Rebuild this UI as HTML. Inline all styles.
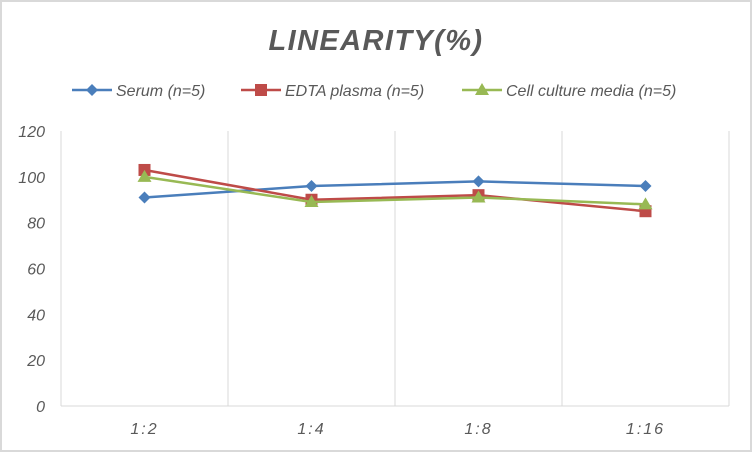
<!DOCTYPE html>
<html><head><meta charset="utf-8"><style>
body{margin:0;background:#fff;}
svg{display:block;font-family:"Liberation Sans",sans-serif;}
</style></head><body>
<svg id="chart" width="752" height="452">
<rect x="1" y="1" width="750" height="450" fill="#fff" stroke="#d9d9d9" stroke-width="2"/>
<text x="376" y="50" text-anchor="middle" font-size="29" font-weight="bold" font-style="italic" fill="#595959" letter-spacing="1.4">LINEARITY(%)</text>
<g id="legend"></g>
<g id="grid"></g>
<g id="yaxis"></g>
<g id="xaxis"></g>
<g id="series"></g>
</svg>
<script>
const categories = ["1:2","1:4","1:8","1:16"];
const serumValues = [91,96,98,96];
const edtaValues = [103,90,92,85];
const cellValues = [100,89,91,88];
const yTicks = [0,20,40,60,80,100,120];
const seriesNames = ["Serum (n=5)","EDTA plasma (n=5)","Cell culture media (n=5)"];

const NS="http://www.w3.org/2000/svg";
const L=61,R=729,T=131,B=406,yMax=120;
const cw=(R-L)/categories.length;
function xs(i){return L+cw*(i+0.5);}
function ys(v){return B-(v/yMax)*(B-T);}
function mk(tag,attrs,parent){const e=document.createElementNS(NS,tag);for(const k in attrs)e.setAttribute(k,attrs[k]);parent.appendChild(e);return e;}
const grid=document.getElementById('grid'),ya=document.getElementById('yaxis'),xa=document.getElementById('xaxis'),sg=document.getElementById('series'),lg=document.getElementById('legend');
for(let i=0;i<=categories.length;i++){
 const l=mk('line',{x1:L+cw*i,x2:L+cw*i,y1:T,y2:B,stroke:'#d9d9d9','stroke-width':1},grid);
 
 
}
const ax=mk('line',{x1:L,x2:R,y1:B,y2:B,stroke:'#d9d9d9','stroke-width':1},xa);


yTicks.forEach(v=>{
 const t=mk('text',{x:45,y:ys(v)+6,'text-anchor':'end','font-size':16,'font-style':'italic',fill:'#595959'},ya);
 t.textContent=v;
 
 
});
categories.forEach((c,i)=>{
 const t=mk('text',{x:xs(i),y:434,'text-anchor':'middle','font-size':16,'font-style':'italic',fill:'#595959','letter-spacing':2},xa);
 t.textContent=c;
 
 
});
const colors=['#4a7ebb','#be4b48','#98b954'];
const data=[serumValues,edtaValues,cellValues];
function marker(k,x,y,p){
 if(k===0) return mk('polygon',{points:`${x},${y-6} ${x+6},${y} ${x},${y+6} ${x-6},${y}`,fill:colors[0]},p);
 if(k===1) return mk('rect',{x:x-6,y:y-6,width:12,height:12,fill:colors[1]},p);
 return mk('polygon',{points:`${x},${y-7} ${x+7},${y+5} ${x-7},${y+5}`,fill:colors[2]},p);
}
data.forEach((vals,k)=>{
 const g=mk('g',{},sg);
 
 
 const pl=mk('polyline',{points:vals.map((v,i)=>xs(i)+','+ys(v)).join(' '),fill:'none',stroke:colors[k],'stroke-width':2.5},g);
 
 
 vals.forEach((v,i)=>{
  const m=marker(k,xs(i),ys(v),g);
  
  
 });
});
const lx=[72,241,462];
seriesNames.forEach((n,k)=>{
 const g=mk('g',{},lg);
 
 
 mk('line',{x1:lx[k],x2:lx[k]+40,y1:90,y2:90,stroke:colors[k],'stroke-width':2.5},g);
 marker(k,lx[k]+20,90,g);
 const t=mk('text',{x:lx[k]+44,y:96,'font-size':16,'font-style':'italic',fill:'#595959'},g);
 t.textContent=n;
});
</script>
</body></html>
